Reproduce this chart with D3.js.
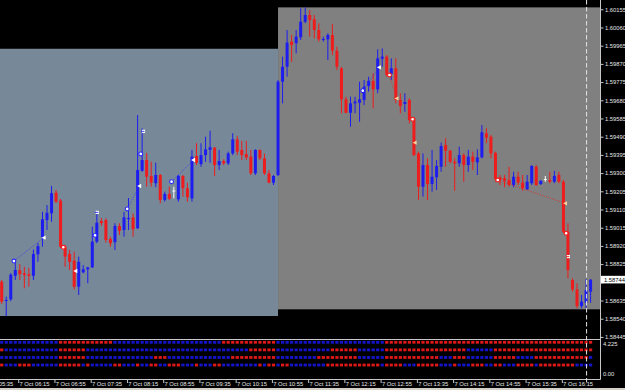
<!DOCTYPE html>
<html><head><meta charset="utf-8">
<script src="https://cdn.jsdelivr.net/npm/d3@7"></script>
<style>html,body{margin:0;padding:0;background:#000;overflow:hidden}</style>
</head><body><svg id="c" width="625" height="390"></svg>
<script>
// ---------------- DATA ----------------
const opens = [1.58733,1.58635,1.58641,1.58764,1.58793,1.58777,1.58772,1.58764,1.58876,1.58966,
1.59055,1.59090,1.59198,1.59156,1.58916,1.58878,1.58843,1.58707,1.58782,1.58798,
1.58808,1.58942,1.59050,1.59055,1.58956,1.58939,1.59024,1.59003,1.59060,1.59069,
1.59012,1.59312,1.59368,1.59285,1.59247,1.59290,1.59160,1.59191,1.59209,1.59163,
1.59285,1.59221,1.59168,1.59389,1.59347,1.59394,1.59421,1.59433,1.59342,1.59363,
1.59351,1.59403,1.59476,1.59421,1.59399,1.59386,1.59299,1.59421,1.59377,1.59299,
1.59250,1.59290,1.59777,1.59855,1.59986,1.59978,1.60009,1.60090,1.60125,1.60103,
1.60047,1.59997,1.59998,1.60021,1.59939,1.59847,1.59685,1.59615,1.59664,1.59667,
1.59682,1.59755,1.59781,1.59737,1.59897,1.59908,1.59817,1.59847,1.59682,1.59661,
1.59682,1.59586,1.59403,1.59229,1.59342,1.59243,1.59278,1.59333,1.59447,1.59417,
1.59359,1.59351,1.59394,1.59342,1.59386,1.59356,1.59382,1.59508,1.59490,1.59406,
1.59278,1.59273,1.59264,1.59238,1.59281,1.59250,1.59215,1.59247,1.59333,1.59243,
1.59269,1.59264,1.59255,1.59290,1.59255,1.58994,1.58742,1.58693,1.58606,1.58623,
1.58681];
const highs = [1.58742,1.58655,1.58778,1.58837,1.58825,1.58811,1.58805,1.58902,1.58934,1.59098,
1.59133,1.59233,1.59212,1.59165,1.58925,1.58899,1.58890,1.58864,1.58820,1.58811,
1.59020,1.59090,1.59066,1.59064,1.58968,1.59038,1.59038,1.59098,1.59170,1.59090,
1.59603,1.59534,1.59405,1.59359,1.59354,1.59295,1.59203,1.59229,1.59229,1.59290,
1.59290,1.59250,1.59421,1.59456,1.59456,1.59490,1.59521,1.59436,1.59421,1.59372,
1.59412,1.59508,1.59494,1.59469,1.59469,1.59421,1.59424,1.59424,1.59403,1.59316,
1.59290,1.59786,1.59908,1.60047,1.60021,1.60047,1.60160,1.60165,1.60151,1.60125,
1.60082,1.60012,1.60030,1.60078,1.59960,1.59855,1.59699,1.59699,1.59699,1.59777,
1.59786,1.59803,1.59821,1.59946,1.59951,1.59916,1.59899,1.59899,1.59717,1.59717,
1.59690,1.59593,1.59412,1.59403,1.59377,1.59421,1.59368,1.59459,1.59482,1.59421,
1.59377,1.59438,1.59403,1.59421,1.59412,1.59424,1.59551,1.59534,1.59499,1.59412,
1.59290,1.59290,1.59333,1.59307,1.59307,1.59290,1.59290,1.59342,1.59342,1.59264,
1.59285,1.59307,1.59312,1.59307,1.59264,1.59038,1.58752,1.58725,1.58664,1.58746,
1.58746];
const lows = [1.58617,1.58554,1.58632,1.58742,1.58742,1.58699,1.58707,1.58742,1.58837,1.58916,
1.59003,1.59046,1.59144,1.58909,1.58811,1.58794,1.58693,1.58664,1.58777,1.58725,
1.58805,1.58934,1.59024,1.58937,1.58916,1.58899,1.58977,1.58968,1.59003,1.58968,
1.59008,1.59307,1.59229,1.59229,1.59226,1.59142,1.59151,1.59160,1.59168,1.59151,
1.59177,1.59151,1.59151,1.59342,1.59333,1.59359,1.59354,1.59285,1.59316,1.59342,
1.59342,1.59394,1.59394,1.59368,1.59368,1.59290,1.59290,1.59368,1.59290,1.59247,
1.59238,1.59285,1.59664,1.59803,1.59881,1.59925,1.59995,1.60082,1.60012,1.60004,
1.59986,1.59986,1.59890,1.59916,1.59838,1.59612,1.59612,1.59542,1.59612,1.59568,
1.59655,1.59725,1.59638,1.59717,1.59855,1.59803,1.59786,1.59664,1.59612,1.59620,
1.59560,1.59389,1.59160,1.59177,1.59160,1.59203,1.59212,1.59307,1.59333,1.59351,
1.59208,1.59333,1.59255,1.59307,1.59316,1.59290,1.59377,1.59456,1.59377,1.59255,
1.59238,1.59226,1.59229,1.59226,1.59238,1.59208,1.59212,1.59238,1.59233,1.59238,
1.59255,1.59247,1.59247,1.59247,1.58987,1.58751,1.58681,1.58594,1.58594,1.58594,
1.58623];
const closes = [1.58629,1.58638,1.58770,1.58794,1.58773,1.58768,1.58764,1.58878,1.58919,1.59059,
1.59093,1.59195,1.59151,1.58916,1.58864,1.58837,1.58707,1.58837,1.58798,1.58808,
1.58942,1.59041,1.59039,1.58951,1.58934,1.59024,1.58999,1.59069,1.59066,1.59007,
1.59316,1.59368,1.59281,1.59250,1.59290,1.59160,1.59191,1.59166,1.59209,1.59285,
1.59221,1.59174,1.59386,1.59354,1.59394,1.59424,1.59435,1.59342,1.59363,1.59351,
1.59403,1.59476,1.59412,1.59394,1.59382,1.59299,1.59421,1.59377,1.59299,1.59250,
1.59285,1.59777,1.59855,1.59981,1.59969,1.60012,1.60090,1.60125,1.60099,1.60047,
1.59998,1.60000,1.60021,1.59939,1.59855,1.59685,1.59615,1.59664,1.59673,1.59685,
1.59751,1.59781,1.59737,1.59899,1.59908,1.59812,1.59847,1.59682,1.59650,1.59671,
1.59577,1.59394,1.59229,1.59342,1.59243,1.59281,1.59337,1.59441,1.59417,1.59359,
1.59351,1.59394,1.59342,1.59386,1.59359,1.59382,1.59513,1.59485,1.59403,1.59268,
1.59264,1.59260,1.59238,1.59281,1.59250,1.59221,1.59255,1.59337,1.59238,1.59259,
1.59269,1.59255,1.59285,1.59255,1.58994,1.58794,1.58693,1.58606,1.58629,1.58690,
1.58744];

const priceTicks = [1.60155,1.60060,1.59965,1.59870,1.59775,1.59680,1.59585,1.59490,1.59395,
1.59300,1.59205,1.59110,1.59015,1.58920,1.58825,1.58730,1.58635,1.58540,1.58445];
const lastPrice = 1.58744;

const timeLabels = ["7 Oct 05:35","7 Oct 06:15","7 Oct 06:55","7 Oct 07:35","7 Oct 08:15",
"7 Oct 08:55","7 Oct 09:35","7 Oct 10:15","7 Oct 10:55","7 Oct 11:35","7 Oct 12:15",
"7 Oct 12:55","7 Oct 13:35","7 Oct 14:15","7 Oct 14:55","7 Oct 15:35","7 Oct 16:15"];
const timeLabelBars = [-4,4,12,20,28,36,44,52,60,68,76,84,92,100,108,116,124];

// session boxes
const zoneFrom = [-2, 61];
const zoneTo = [61, 134];
const zoneTop = [1.59949, 1.60165];
const zoneBottom = [1.58554, 1.58589];
const zoneColor = ["#778899", "#808080"];

const currentBar = 129;

// indicator sub-window (run-length: colour, count)
const row1Runs = [["B",13],["R",12],["B",24],["R",12],["B",24],["R",46]];
const row2Runs = [["R",1],["B",12],["R",6],["B",36],["R",6],["B",12],["R",6],["B",6],["R",18],["B",6],["R",22]];
const row3Runs = [["B",13],["R",6],["B",15],["R",3],["B",14],["R",10],["B",9],["R",9],["B",6],["R",12],["B",3],["R",3],["B",6],["R",5],["B",4],["R",12],["B",1]];
const row4Runs = [["R",1],["B",3],["R",3],["B",6],["R",5],["B",1],["R",1],["B",5],["R",2],["B",3],["R",1],["B",2],["R",2],["B",2],["R",3],["B",3],["R",1],["B",3],["R",2],["B",8],["R",1],["B",1],["R",2],["B",1],["R",2],["B",8],["R",12],["B",1],["R",4],["B",3],["R",5],["B",3],["R",1],["B",3],["R",3],["B",2],["R",2],["B",3],["R",4],["B",1],["R",8],["B",4]];
const rowLevels = [4,3,2,1];
const subTicks = [4.225, 0];

// signal markers: bar position, price, kind, colour
const signals = [
 {bar:2.7, price:1.58841, kind:"circle", color:"blue"},
 {bar:9.3, price:1.58963, kind:"tri", color:"white"},
 {bar:13.6, price:1.58913, kind:"circle", color:"red"},
 {bar:16.3, price:1.58789, kind:"tri", color:"white"},
 {bar:20.6, price:1.58975, kind:"circle", color:"blue"},
 {bar:21.1, price:1.59095, kind:"dash", color:"blue"},
 {bar:27.7, price:1.59113, kind:"circle", color:"blue"},
 {bar:30.4, price:1.59233, kind:"tri", color:"white"},
 {bar:30.7, price:1.59400, kind:"circle", color:"blue"},
 {bar:31.3, price:1.59518, kind:"dash", color:"blue"},
 {bar:37.5, price:1.59255, kind:"circle", color:"blue"},
 {bar:42.3, price:1.59368, kind:"tri", color:"white"},
 {bar:79.7, price:1.59730, kind:"circle", color:"white"},
 {bar:83.3, price:1.59852, kind:"tri", color:"white"},
 {bar:85.6, price:1.59812, kind:"circle", color:"red"},
 {bar:87.2, price:1.59690, kind:"tri", color:"orange"},
 {bar:90.7, price:1.59581, kind:"circle", color:"red"},
 {bar:91.2, price:1.59459, kind:"tri", color:"orange"},
 {bar:109.5, price:1.59264, kind:"circle", color:"red"},
 {bar:124.4, price:1.59142, kind:"tri", color:"orange"},
 {bar:124.6, price:1.58986, kind:"circle", color:"red"},
 {bar:125.1, price:1.58864, kind:"dash", color:"red"}
];
const signalLinks = [[0,1,"blue"],[6,7,"blue"],[10,11,"blue"],[12,13,"blue"],[14,15,"red"],[18,19,"red"]];

// ---------------- DRAW ----------------
const W = 625, H = 390;
const AXIS_X = 600, MAIN_TOP = 0, MAIN_BOTTOM = 338, SEP_Y = 339, TIME_Y = 379;
const BLUE = "#1d1df0", RED = "#ee1c1c";
const COL = {blue:"#2a2aff", red:"#f01e1e", white:"#ffffff", orange:"#ffcf9a"};
const FONT = "'Liberation Sans', Arial, sans-serif";

const svg = d3.select("#c");
svg.append("rect").attr("width", W).attr("height", H).attr("fill", "#000");

const x = d3.scaleLinear().domain([0, 130]).range([1.7, 590.6]);
const y = d3.scaleLinear().domain([1.584393, 1.602035]).range([MAIN_BOTTOM, MAIN_TOP]);
const sy = d3.scaleLinear().domain([0, 4.225]).range([372.6, 340.6]);

svg.append("defs").append("clipPath").attr("id", "mainClip")
  .append("rect").attr("x", 0).attr("y", 0).attr("width", AXIS_X).attr("height", SEP_Y);
const main = svg.append("g").attr("clip-path", "url(#mainClip)");

// zones
main.selectAll("rect.zone").data(zoneFrom).enter().append("rect").attr("class","zone")
  .attr("x", (d,i) => x(zoneFrom[i]))
  .attr("width", (d,i) => x(zoneTo[i]) - x(zoneFrom[i]))
  .attr("y", (d,i) => y(zoneTop[i]))
  .attr("height", (d,i) => y(zoneBottom[i]) - y(zoneTop[i]))
  .attr("fill", (d,i) => zoneColor[i]);

// candles
const bars = d3.range(opens.length);
const colorOf = i => closes[i] > opens[i] ? BLUE : (closes[i] < opens[i] ? RED : "#ffffff");
const cg = main.append("g");
cg.selectAll("line.wick").data(bars).enter().append("line")
  .attr("x1", i => x(i)).attr("x2", i => x(i))
  .attr("y1", i => y(highs[i])).attr("y2", i => y(lows[i]))
  .attr("stroke", colorOf).attr("stroke-width", 1);
cg.selectAll("rect.body").data(bars).enter().append("rect")
  .attr("x", i => x(i) - 1.5).attr("width", 3)
  .attr("y", i => Math.min(y(opens[i]), y(closes[i])))
  .attr("height", i => Math.max(1, Math.abs(y(opens[i]) - y(closes[i]))))
  .attr("fill", colorOf);

// signal links
main.selectAll("line.link").data(signalLinks).enter().append("line")
  .attr("x1", d => x(signals[d[0]].bar)).attr("y1", d => y(signals[d[0]].price))
  .attr("x2", d => x(signals[d[1]].bar)).attr("y2", d => y(signals[d[1]].price))
  .attr("stroke", d => COL[d[2]]).attr("stroke-width", 0.8).attr("stroke-dasharray", "1,1.5");

// signal markers
signals.forEach(s => {
  const sx = x(s.bar), syy = y(s.price), c = COL[s.color];
  if (s.kind === "circle") {
    main.append("circle").attr("cx", sx).attr("cy", syy).attr("r", 1.9)
      .attr("fill", "#fff").attr("stroke", s.color === "white" ? "#1d1df0" : c).attr("stroke-width", 1.1);
  } else if (s.kind === "tri") {
    main.append("path").attr("d", `M${sx-2.2},${syy} L${sx+1.8},${syy-2.2} L${sx+1.8},${syy+2.2} Z`).attr("fill", c);
  } else {
    main.append("rect").attr("x", sx-1.6).attr("y", syy-1.6).attr("width", 3.2).attr("height", 3.2).attr("fill", "#fff");
    main.append("line").attr("x1", sx-2.5).attr("x2", sx+1).attr("y1", syy).attr("y2", syy).attr("stroke", c).attr("stroke-width", 0.9);
  }
});

// indicator sub-window
const expand = runs => runs.flatMap(r => Array(r[1]).fill(r[0]));
const rows = [row1Runs, row2Runs, row3Runs, row4Runs].map(expand);
const sub = svg.append("g");
rows.forEach((row, r) => {
  sub.selectAll(null).data(row).enter().append("rect")
    .attr("x", (d,i) => x(i) - 1.6).attr("width", 3.2)
    .attr("y", sy(rowLevels[r]) - 1.4).attr("height", 2.8)
    .attr("fill", d => d === "B" ? "#1414cc" : "#e01818");
});

// separators and axes
svg.append("line").attr("x1", 0).attr("x2", AXIS_X).attr("y1", SEP_Y+0.5).attr("y2", SEP_Y+0.5).attr("stroke", "#c8c8c8").attr("stroke-width", 1);
svg.append("line").attr("x1", 0).attr("x2", AXIS_X+0.5).attr("y1", TIME_Y+0.5).attr("y2", TIME_Y+0.5).attr("stroke", "#c8c8c8").attr("stroke-width", 1);
svg.append("line").attr("x1", AXIS_X+0.5).attr("x2", AXIS_X+0.5).attr("y1", 0).attr("y2", TIME_Y+0.5).attr("stroke", "#c8c8c8").attr("stroke-width", 1);
svg.append("rect").attr("x", 0).attr("y", 388).attr("width", W).attr("height", 2).attr("fill", "#d4d0c8");

// current-time dashed line
svg.append("line").attr("x1", x(currentBar)+0.5).attr("x2", x(currentBar)+0.5)
  .attr("y1", 0).attr("y2", 384).attr("stroke", "#e4e4e4").attr("stroke-width", 1).attr("stroke-dasharray", "4.5,2.5");

// price axis (the tick label hidden under the last-price box is not drawn)
const lpY = y(lastPrice);
const pa = svg.append("g").attr("transform", `translate(${AXIS_X+0.5},0)`)
  .call(d3.axisRight(y).tickValues(priceTicks).tickFormat(d3.format(".5f")).tickSize(3).tickPadding(1.5));
pa.select(".domain").remove();
pa.selectAll("line").attr("stroke", "#c8c8c8");
pa.selectAll("text").attr("fill", "#e6e6e6").style("font-family", FONT).style("font-size", "5.8px");
pa.selectAll(".tick").filter(d => Math.abs(y(d) - lpY) < 7).select("text").remove();

// last price label
svg.append("rect").attr("x", AXIS_X+1).attr("y", lpY-3.8).attr("width", 24).attr("height", 7.6).attr("fill", "#fff");
svg.append("text").attr("x", AXIS_X+4).attr("y", lpY).attr("dy", "0.35em").attr("fill", "#000")
  .style("font-family", FONT).style("font-size", "5.8px").text(d3.format(".5f")(lastPrice));

// sub-window axis
svg.selectAll("text.sub").data(subTicks).enter().append("text")
  .attr("x", AXIS_X+3).attr("y", d => d > 0 ? sy(d)+3.6 : sy(d)+1.8).attr("dy", "0.35em")
  .attr("fill", "#e6e6e6").style("font-family", FONT).style("font-size", "5.8px")
  .text(d => d > 0 ? d3.format(".3f")(d) : "0.00");

// time axis
const tg = svg.append("g");
timeLabelBars.forEach((b, i) => {
  const tx = x(b) - 1.6;
  tg.append("line").attr("x1", tx+0.5).attr("x2", tx+0.5).attr("y1", TIME_Y).attr("y2", TIME_Y+4).attr("stroke", "#c8c8c8");
  tg.append("text").attr("x", tx+1.3).attr("y", 385.6).attr("fill", "#e6e6e6")
    .style("font-family", FONT).style("font-size", "5.8px").text(timeLabels[i]);
});
</script></body></html>
